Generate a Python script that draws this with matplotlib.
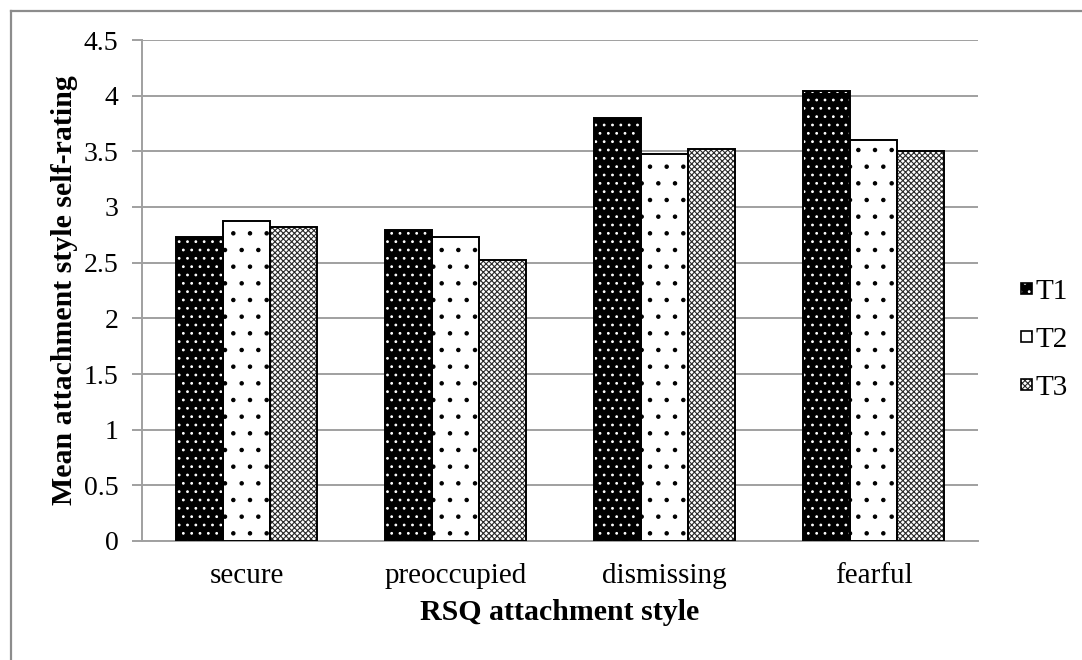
import matplotlib

matplotlib.use("Agg")
import matplotlib.pyplot as plt  # noqa: E402
import numpy as np  # noqa: E402
from matplotlib.lines import Line2D  # noqa: E402
from matplotlib.patches import Rectangle  # noqa: E402

CATEGORIES = ["secure", "preoccupied", "dismissing", "fearful"]
SERIES = ["T1", "T2", "T3"]
T1 = [2.73, 2.79, 3.80, 4.04]
T2 = [2.87, 2.73, 3.48, 3.60]
T3 = [2.82, 2.52, 3.52, 3.50]
YTICKS = [0, 0.5, 1, 1.5, 2, 2.5, 3, 3.5, 4, 4.5]

# (facecolor, hatch, hatch colour) per series
STYLES = [("black", "..", "white"), ("white", ".", "black"), ("white", "xxxxxx", "#2a2a2a")]
GRID = "#a0a0a0"

plt.rcParams["font.family"] = ["Liberation Serif", "DejaVu Serif"]
plt.rcParams["hatch.linewidth"] = 0.8

W, H = 1082, 660
fig = plt.figure(figsize=(W / 100, H / 100), dpi=100)
# outer frame: only the top and left edges show
fig.lines.append(Line2D([11 / W, 11 / W], [0, 1 - 11 / H], transform=fig.transFigure,
                        color="#8c8c8c", linewidth=1.6))
fig.lines.append(Line2D([11 / W, 1], [1 - 11 / H, 1 - 11 / H], transform=fig.transFigure,
                        color="#8c8c8c", linewidth=1.6))

ax = fig.add_axes([142 / W, 1 - 541 / H, 836 / W, 501 / H])

x = np.arange(len(CATEGORIES))
width = 0.226
handles = []
for i, (vals, (fc, hatch, hc)) in enumerate(zip([T1, T2, T3], STYLES)):
    pos = x + (i - 1) * width
    # hatch colour follows edgecolor, so draw the pattern and outline separately
    ax.bar(pos, vals, width, color=fc, hatch=hatch, edgecolor=hc, linewidth=0, zorder=3)
    ax.bar(pos, vals, width, fill=False, edgecolor="black", linewidth=1.4, zorder=4)
    handles.append((Rectangle((0, 0), 1, 1, facecolor=fc, hatch=hatch, edgecolor=hc, linewidth=0),
                    Rectangle((0, 0), 1, 1, fill=False, edgecolor="black", linewidth=1.2)))

ax.set_ylim(0, 4.5)
ax.set_xlim(-0.5, len(CATEGORIES) - 0.5)
ax.set_yticks(YTICKS)
ax.set_yticklabels([f"{v:g}" for v in YTICKS])
ax.set_xticks(x)
ax.set_xticklabels(CATEGORIES)
ax.grid(True, axis="y", color=GRID, linewidth=1.4, zorder=0)
for side in ("top", "right"):
    ax.spines[side].set_visible(False)
for side in ("left", "bottom"):
    ax.spines[side].set_color(GRID)
    ax.spines[side].set_linewidth(1.4)
ax.tick_params(axis="y", length=7, width=1.4, color=GRID, labelsize=20, pad=10)
ax.tick_params(axis="x", length=0, labelsize=21, pad=16)
ax.set_ylabel("Mean attachment style self-rating", fontsize=21.5, fontweight="bold", labelpad=4)
ax.set_xlabel("RSQ attachment style", fontsize=21.5, fontweight="bold", labelpad=7)

fig.legend(handles, SERIES, loc="center left", bbox_to_anchor=(1021 / W, 1 - 340 / H),
           frameon=False, fontsize=21, handlelength=0.38, handleheight=0.2,
           handletextpad=0.12, labelspacing=0.76, borderpad=0, borderaxespad=0)

fig.savefig("out.png", dpi=100)
